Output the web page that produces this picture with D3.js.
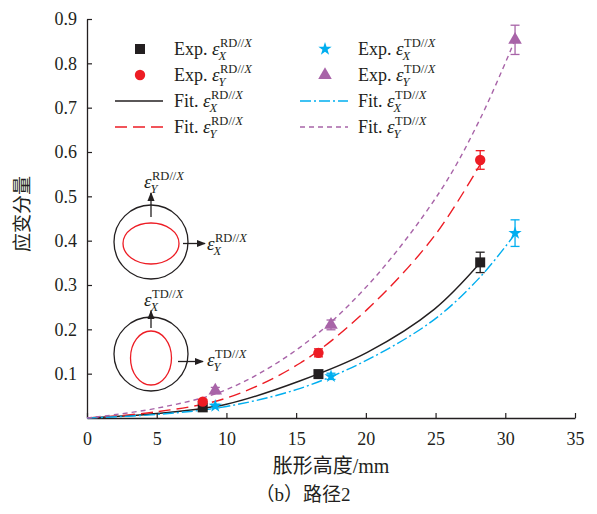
<!DOCTYPE html>
<html>
<head>
<meta charset="utf-8">
<script src="https://cdn.jsdelivr.net/npm/d3@7"></script>
<style>
  body { margin: 0; background: #fff; }
  text { font-family: "Liberation Serif", "Times New Roman", "Noto Sans CJK SC", serif; fill: #231f20; }
</style>
</head>
<body>
<div class="chartCont"></div>
<script>
var w = 597;
var h = 514;

// experimental points [x, y, err]
const expRdX = [[8.3, 0.024, 0.004], [16.6, 0.099, 0.008], [28.2, 0.351, 0.023]];
const expRdY = [[8.3, 0.037, 0.005], [16.6, 0.147, 0.009], [28.2, 0.582, 0.021]];
const expTdX = [[9.2, 0.027, 0.004], [17.5, 0.094, 0.007], [30.7, 0.417, 0.030]];
const expTdY = [[9.2, 0.062, 0.007], [17.5, 0.210, 0.011], [30.7, 0.853, 0.033]];

// fitted curves
const fitRdX = [[0, 0], [5, 0.010], [10, 0.031], [15.3, 0.084], [20.1, 0.148], [24.9, 0.245], [28.2, 0.350]];
const fitRdY = [[0, 0], [5, 0.014], [10, 0.045], [15.3, 0.124], [20.1, 0.245], [24.9, 0.410], [28.2, 0.572]];
const fitTdX = [[0, 0], [5, 0.008], [10, 0.026], [15.3, 0.067], [20.1, 0.131], [24.9, 0.222], [28.2, 0.318], [30.7, 0.415]];
const fitTdY = [[0, 0], [5, 0.022], [10, 0.064], [15.3, 0.160], [20.1, 0.298], [25.3, 0.510], [28.2, 0.675], [30.7, 0.853]];

const xTicks = [0, 5, 10, 15, 20, 25, 30, 35];
const yTicks = [0.1, 0.2, 0.3, 0.4, 0.5, 0.6, 0.7, 0.8, 0.9];

const black = "#231f20", red = "#ed1c24", blue = "#00aeef", purple = "#a864a8";

var svg = d3.select(".chartCont").append("svg")
    .attr("width", w)
    .attr("height", h);

const x = d3.scaleLinear().domain([0, 35]).range([87, 575]);
const y = d3.scaleLinear().domain([0, 0.9]).range([418, 19]);

// axes
const xAxis = svg.append("g").attr("transform", "translate(0,418)")
    .call(d3.axisBottom(x).tickValues(xTicks).tickSize(-5).tickPadding(10).tickSizeOuter(0));
const yAxis = svg.append("g").attr("transform", "translate(87,0)")
    .call(d3.axisLeft(y).tickValues(yTicks).tickSize(-5).tickPadding(10).tickSizeOuter(0));
[xAxis, yAxis].forEach(a => {
  a.select(".domain").attr("stroke", black).attr("stroke-width", 1.3);
  a.selectAll(".tick line").attr("stroke", black).attr("stroke-width", 1.2);
  a.selectAll(".tick text").style("font-size", "18px").attr("fill", black);
});
xAxis.selectAll(".tick text").attr("dy", "0.95em");

svg.append("text").attr("x", 331).attr("y", 473).attr("text-anchor", "middle")
    .style("font-size", "20px").text("胀形高度/mm");
svg.append("text").attr("x", 303).attr("y", 501).attr("text-anchor", "middle")
    .style("font-size", "19px").text("（b）路径2");
svg.append("text").attr("transform", "translate(29,214) rotate(-90)").attr("text-anchor", "middle")
    .style("font-size", "19px").text("应变分量");

// fitted curves
const line = d3.line().x(d => x(d[0])).y(d => y(d[1])).curve(d3.curveCatmullRom.alpha(0.5));
const fits = [
  {data: fitRdX, color: black, dash: null},
  {data: fitRdY, color: red, dash: "12,6"},
  {data: fitTdX, color: blue, dash: "11,3,2,3"},
  {data: fitTdY, color: purple, dash: "5,4"}
];
fits.forEach(f => {
  svg.append("path").datum(f.data)
    .attr("fill", "none").attr("stroke", f.color).attr("stroke-width", 1.4)
    .attr("stroke-dasharray", f.dash).attr("d", line);
});

// markers
const sym = {
  square: d3.symbol().type(d3.symbolSquare).size(100),
  circle: d3.symbol().type(d3.symbolCircle).size(85),
  star: d3.symbol().type(d3.symbolStar).size(55),
  triangle: d3.symbol().type(d3.symbolTriangle).size(80)
};
const exps = [
  {data: expRdX, color: black, s: "square"},
  {data: expRdY, color: red, s: "circle"},
  {data: expTdX, color: blue, s: "star"},
  {data: expTdY, color: purple, s: "triangle"}
];
exps.forEach(e => {
  const g = svg.append("g");
  e.data.forEach(d => {
    const cx = x(d[0]), t = y(d[1] + d[2]), b = y(d[1] - d[2]);
    g.append("line").attr("x1", cx).attr("x2", cx).attr("y1", t).attr("y2", b)
      .attr("stroke", e.color).attr("stroke-width", 1.3);
    [t, b].forEach(yy => g.append("line").attr("x1", cx - 4.5).attr("x2", cx + 4.5)
      .attr("y1", yy).attr("y2", yy).attr("stroke", e.color).attr("stroke-width", 1.3));
  });
  g.selectAll("path").data(e.data).enter().append("path")
    .attr("transform", d => "translate(" + x(d[0]) + "," + y(d[1]) + ")")
    .attr("d", sym[e.s]).attr("fill", e.color);
});

// epsilon label with stacked sup/sub
function eps(px, py, prefix, sup, sub) {
  const t = svg.append("text").attr("x", px).attr("y", py).style("font-size", "18px");
  t.append("tspan").text(prefix);
  t.append("tspan").style("font-style", "italic").style("font-size", "19px").text("ε");
  const wd = t.node().getComputedTextLength();
  const s = svg.append("text").attr("x", px + wd + 0.5).attr("y", py - 8).style("font-size", "12.5px");
  s.append("tspan").text(sup);
  s.append("tspan").text("//");
  s.append("tspan").style("font-style", "italic").text("X");
  svg.append("text").attr("x", px + wd - 1).attr("y", py + 5).style("font-size", "12.5px")
    .style("font-style", "italic").text(sub);
}

// legend
const legend = [
  {col: 0, row: 0, type: "m", s: "square", color: black, lab: "Exp. ", sup: "RD", sub: "X"},
  {col: 0, row: 1, type: "m", s: "circle", color: red, lab: "Exp. ", sup: "RD", sub: "Y"},
  {col: 0, row: 2, type: "l", dash: null, color: black, lab: "Fit. ", sup: "RD", sub: "X"},
  {col: 0, row: 3, type: "l", dash: "12,6", color: red, lab: "Fit. ", sup: "RD", sub: "Y"},
  {col: 1, row: 0, type: "m", s: "star", color: blue, lab: "Exp. ", sup: "TD", sub: "X"},
  {col: 1, row: 1, type: "m", s: "triangle", color: purple, lab: "Exp. ", sup: "TD", sub: "Y"},
  {col: 1, row: 2, type: "l", dash: "11,3,2,3", color: blue, lab: "Fit. ", sup: "TD", sub: "X"},
  {col: 1, row: 3, type: "l", dash: "5,4", color: purple, lab: "Fit. ", sup: "TD", sub: "Y"}
];
legend.forEach(l => {
  const base = 55 + l.row * 26;
  const cx = l.col ? 325 : 140;
  const tx = l.col ? 358 : 174;
  if (l.type === "m") {
    svg.append("path").attr("transform", "translate(" + cx + "," + (base - 6) + ")")
      .attr("d", sym[l.s]).attr("fill", l.color);
  } else {
    svg.append("line").attr("x1", cx - 25).attr("x2", cx + 23).attr("y1", base - 6).attr("y2", base - 6)
      .attr("stroke", l.color).attr("stroke-width", 1.4).attr("stroke-dasharray", l.dash);
  }
  eps(tx, base, l.lab, l.sup, l.sub);
});

// inset sketches
svg.append("defs").append("marker").attr("id", "ah")
  .attr("viewBox", "0 0 10 10").attr("refX", 9).attr("refY", 5)
  .attr("markerWidth", 9).attr("markerHeight", 9).attr("markerUnits", "userSpaceOnUse")
  .attr("orient", "auto")
  .append("path").attr("d", "M0,1 L10,5 L0,9 Z").attr("fill", black);

function inset(cy, rx, ry, ecy) {
  svg.append("circle").attr("cx", 151).attr("cy", cy).attr("r", 37)
    .attr("fill", "none").attr("stroke", black).attr("stroke-width", 1.3);
  svg.append("ellipse").attr("cx", 151).attr("cy", ecy).attr("rx", rx).attr("ry", ry)
    .attr("fill", "none").attr("stroke", red).attr("stroke-width", 1.3);
}
inset(242, 28, 20.5, 243.5);
inset(354, 20.5, 27, 358);

[[151, 217, 151, 193], [183, 243.5, 205, 243.5], [151, 328, 151, 311], [178, 361.5, 203, 361.5]].forEach(a => {
  svg.append("line").attr("x1", a[0]).attr("y1", a[1]).attr("x2", a[2]).attr("y2", a[3])
    .attr("stroke", black).attr("stroke-width", 1.3).attr("marker-end", "url(#ah)");
});

eps(144, 188, "", "RD", "Y");
eps(207, 250, "", "RD", "X");
eps(144, 306, "", "TD", "X");
eps(207, 366, "", "TD", "Y");
</script>
</body>
</html>
